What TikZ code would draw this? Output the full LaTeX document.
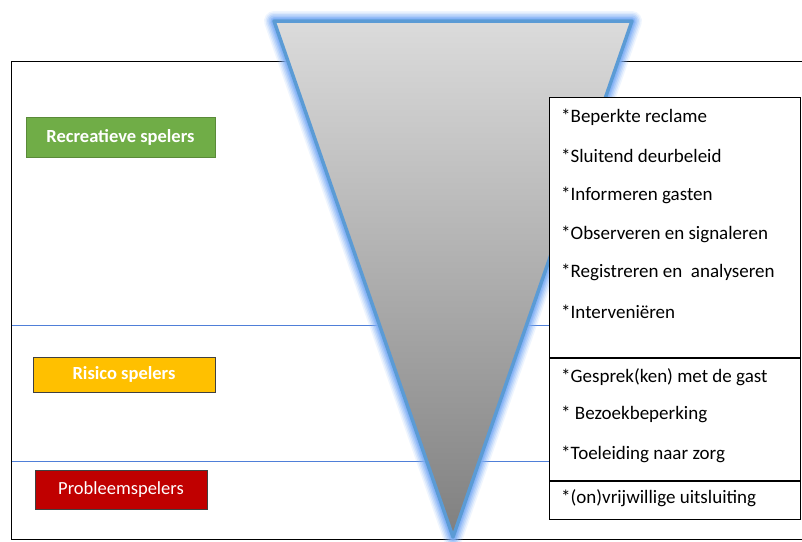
\documentclass[tikz,border=0pt]{standalone}
\usepackage{fontspec}
\setmainfont{Carlito}
\begin{document}
\begin{tikzpicture}[x=1pt,y=-1pt,
  lbl/.style={draw=#1!80!black,fill=#1,text=white,font=\fontsize{18.5}{21}\selectfont\bfseries,inner sep=0pt,line width=1pt},
  itm/.style={anchor=west,inner sep=0pt,font=\fontsize{19}{22}\selectfont},
  frame/.style={line width=1pt}]
\definecolor{cgreen}{HTML}{70AD47}
\definecolor{cyellow}{HTML}{FFC000}
\definecolor{cred}{HTML}{C00000}
\definecolor{cblue}{HTML}{5B9BD5}
\definecolor{cglow}{HTML}{7EAEF5}
\definecolor{cline}{HTML}{4F7FD8}
\useasboundingbox (0,0) rectangle (802,541);
% frame
\coordinate (ftl) at (11.5,61);
\coordinate (ftr) at (802,61);
\coordinate (fbl) at (11.5,539);
\coordinate (fbr) at (802,539);
\draw[frame] (ftr) -- (ftl) -- (fbl) -- (fbr);
% separators
\coordinate (s1a) at (12,325.5);
\coordinate (s1b) at (549,325.5);
\coordinate (s2a) at (12,461.5);
\coordinate (s2b) at (549,461.5);
\draw[draw=cline,line width=1pt] (s1a) -- (s1b);
\draw[draw=cline,line width=1pt] (s2a) -- (s2b);
% funnel
\coordinate (tl) at (274,21);
\coordinate (tr) at (632,21);
\coordinate (tb) at (453,537);
\foreach \w/\o in {20/0.12,17/0.18,14/0.25,11/0.35,8/0.5,6/0.6}{
  \draw[cglow,line width=\w pt,line join=round,opacity=\o] (tl) -- (tr) -- (tb) -- cycle;
}
\shade[top color=black!14,bottom color=black!50,line join=round] (tl) -- (tr) -- (tb) -- cycle;
\draw[cblue,line width=3.5pt,line join=round] (tl) -- (tr) -- (tb) -- cycle;
% labels
\node[lbl=cgreen,minimum width=189pt,minimum height=40pt] (rec) at (120.5,137) {Recreatieve spelers};
\node[lbl=cyellow,draw=black!75,minimum width=182pt,minimum height=35pt] (ris) at (124,374.5) {Risico spelers};
\node[lbl=cred,draw=black!75,font=\fontsize{18.5}{21}\selectfont,minimum width=172pt,minimum height=39pt] (pro) at (121,489.5) {Probleemspelers};
% right box
\draw[frame,fill=white] (549,97) rectangle (800.5,357);
\draw[frame,fill=white] (549,357) rectangle (800.5,480);
\draw[frame,fill=white] (549,480) rectangle (800.5,519);
\draw[frame] (549,358.5) -- (800.5,358.5);
\draw[frame] (549,481.5) -- (800.5,481.5);
\node[itm] (i1) at (561,117) {*Beperkte reclame};
\node[itm] (i2) at (561,156) {*Sluitend deurbeleid};
\node[itm] (i3) at (561,195) {*Informeren gasten};
\node[itm] (i4) at (561,234) {*Observeren en signaleren};
\node[itm] (i5) at (561,272) {*Registreren en\ \ analyseren};
\node[itm] (i6) at (561,312) {*Interveniëren};
\node[itm] (i7) at (561,377) {*Gesprek(ken) met de gast};
\node[itm] (i8) at (561,414) {* Bezoekbeperking};
\node[itm] (i9) at (561,454) {*Toeleiding naar zorg};
\node[itm] (i10) at (561,498) {*(on)vrijwillige uitsluiting};
\end{tikzpicture}
\end{document}
